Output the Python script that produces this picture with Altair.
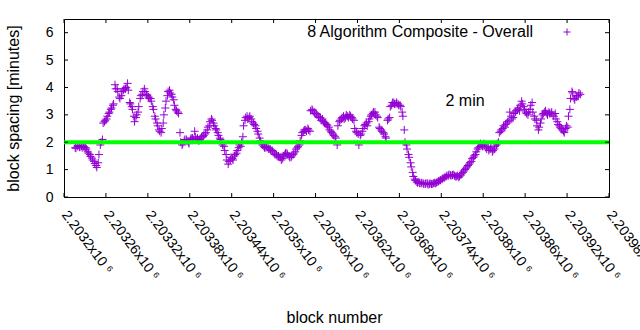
import altair as alt
import pandas as pd

# ---- data ----
# blocks are consecutive; the band is sampled on two interleaved block sets
blocks_a = list(range(2203216, 2203940, 3))
spacing_a = [
    1.80, 1.85, 1.82, 1.86, 1.85, 1.80, 1.65, 1.55, 1.42, 1.30,
    1.15, 1.25, 1.90, 2.10, 2.75, 2.85, 3.05, 3.20, 3.35, 4.10,
    3.95, 3.65, 3.70, 3.90, 3.95, 4.15, 3.45, 3.30, 2.95, 2.90,
    3.10, 3.60, 3.75, 3.95, 3.75, 3.65, 3.60, 3.30, 2.95, 2.70,
    2.45, 2.35, 2.70, 3.25, 3.70, 3.90, 3.75, 3.55, 3.20, 3.10,
    2.35, 1.90, 2.05, 2.10, 2.00, 2.10, 2.15, 2.40, 2.10, 2.05,
    2.15, 2.20, 2.30, 2.45, 2.60, 2.85, 2.70, 2.50, 2.35, 2.15,
    2.00, 1.85, 1.55, 1.20, 1.35, 1.40, 1.50, 1.60, 1.80, 1.85,
    2.20, 2.80, 2.95, 2.90, 2.85, 2.70, 2.60, 2.40, 2.15, 1.95,
    1.85, 1.80, 1.80, 1.75, 1.70, 1.60, 1.55, 1.50, 1.45, 1.40,
    1.55, 1.60, 1.50, 1.45, 1.55, 1.65, 1.80, 1.90, 2.25, 2.40,
    2.45, 2.50, 2.40, 3.20, 3.10, 3.05, 2.95, 2.90, 2.85, 2.70,
    2.65, 2.55, 2.40, 2.30, 2.20, 1.90, 2.75, 2.85, 2.95, 2.90,
    2.95, 3.00, 2.90, 2.80, 2.40, 2.30, 2.25, 2.40, 2.60, 2.70,
    2.75, 2.95, 3.05, 3.10, 2.95, 2.55, 2.45, 2.35, 2.20, 2.80,
    2.90, 3.35, 3.45, 3.40, 3.40, 3.35, 3.10, 2.45, 1.90, 1.55,
    1.25, 0.90, 0.65, 0.55, 0.55, 0.50, 0.50, 0.48, 0.50, 0.47,
    0.47, 0.50, 0.50, 0.55, 0.60, 0.65, 0.70, 0.75, 0.78, 0.80,
    0.80, 0.78, 0.75, 0.72, 0.80, 0.90, 1.00, 1.10, 1.20, 1.30,
    1.45, 1.55, 1.75, 1.85, 1.90, 1.95, 1.80, 1.85, 1.75, 1.65,
    1.75, 1.90, 2.00, 2.40, 2.50, 2.55, 2.70, 2.80, 2.95, 2.90,
    3.10, 3.20, 3.15, 3.50, 3.30, 3.10, 3.00, 3.20, 3.45, 2.95,
    2.80, 2.45, 2.70, 3.00, 3.10, 3.05, 3.10, 3.05, 3.00, 3.05,
    2.75, 2.60, 2.50, 2.40, 2.50, 2.55, 3.20, 3.85, 3.60, 3.65,
    3.70, 3.75,
]
blocks_b = list(range(2203217, 2203940, 3))
spacing_b = [
    1.78, 1.88, 1.84, 1.80, 1.83, 1.75, 1.60, 1.48, 1.35, 1.22,
    1.08, 1.55, 2.00, 2.70, 2.80, 2.95, 3.10, 3.25, 3.40, 3.95,
    3.85, 3.60, 3.85, 3.95, 4.00, 3.90, 3.40, 3.20, 2.75, 3.00,
    3.30, 3.70, 3.85, 3.85, 3.70, 3.60, 3.50, 3.20, 2.85, 2.60,
    2.40, 2.50, 3.00, 3.50, 3.85, 3.80, 3.65, 3.35, 3.15, 3.05,
    2.00, 1.95, 2.10, 2.05, 1.95, 2.15, 2.10, 2.20, 2.15, 2.10,
    2.20, 2.25, 2.35, 2.55, 2.75, 2.80, 2.60, 2.45, 2.25, 2.10,
    1.90, 1.70, 1.35, 1.30, 1.45, 1.35, 1.55, 1.70, 1.90, 2.00,
    2.60, 2.90, 2.85, 2.95, 2.75, 2.65, 2.50, 2.30, 2.05, 1.90,
    1.80, 1.85, 1.75, 1.70, 1.65, 1.55, 1.50, 1.45, 1.35, 1.50,
    1.60, 1.55, 1.45, 1.50, 1.60, 1.75, 1.85, 2.05, 2.35, 2.45,
    2.40, 2.45, 3.15, 3.15, 3.05, 3.00, 2.90, 2.80, 2.75, 2.70,
    2.60, 2.45, 2.35, 2.25, 2.15, 2.60, 2.80, 2.90, 2.85, 3.00,
    2.90, 2.95, 2.85, 2.50, 2.35, 1.90, 2.30, 2.50, 2.65, 2.60,
    2.85, 3.00, 3.10, 3.00, 2.90, 2.50, 2.40, 2.30, 2.15, 2.85,
    3.30, 3.45, 3.40, 3.45, 3.35, 3.30, 2.95, 2.00, 1.75, 1.45,
    1.10, 0.75, 0.60, 0.52, 0.50, 0.52, 0.47, 0.50, 0.45, 0.50,
    0.48, 0.52, 0.53, 0.58, 0.62, 0.68, 0.72, 0.78, 0.82, 0.78,
    0.82, 0.75, 0.78, 0.76, 0.85, 0.95, 1.05, 1.15, 1.25, 1.40,
    1.50, 1.65, 1.80, 1.95, 1.85, 1.90, 1.75, 1.70, 1.80, 1.70,
    1.85, 1.95, 2.35, 2.45, 2.60, 2.65, 2.75, 3.10, 2.85, 3.05,
    3.15, 3.25, 3.35, 3.40, 3.20, 3.05, 3.10, 3.35, 3.10, 2.85,
    2.60, 2.55, 2.85, 3.05, 3.15, 3.00, 3.05, 3.10, 2.95, 2.85,
    2.65, 2.55, 2.45, 2.35, 2.60, 2.95, 3.60, 3.80, 3.55, 3.70,
    3.80,
]
x_ticks = [2203200 + 60 * k for k in range(14)]
y_ticks = [0, 1, 2, 3, 4, 5, 6]
target_minutes = [2]
note_text = ["2 min"]
note_block = [2203774]
note_value = [3.32]
series_name = "8 Algorithm Composite - Overall"

W, H = 545, 178
FONT = "Liberation Sans"
LABEL_FONT = "Liberation Sans, DejaVu Sans, sans-serif"
PURPLE = "#9400d3"
PLUS = "M-1,0L1,0M0,-1L0,1"

df = pd.concat([
    pd.DataFrame({"block": blocks_a, "spacing": spacing_a}),
    pd.DataFrame({"block": blocks_b, "spacing": spacing_b}),
]).sort_values("block")
xt = pd.DataFrame({"t": x_ticks})
yt = pd.DataFrame({"t": y_ticks})

xs = alt.Scale(domain=[2203200, 2203980], nice=False, zero=False)
ys = alt.Scale(domain=[0, 6.5], nice=False, zero=True)

label_expr = "format(datum.value / 1000000, '.5~f') + 'x10 \u2076'"

XAXIS = alt.Axis(
    values=x_ticks, labelExpr=label_expr, labelAngle=53, labelAlign="left",
    labelBaseline="middle", labelPadding=15, labelFont=LABEL_FONT, labelFontSize=14,
    labelColor="#000", labelOverlap=False, labelBound=False, labelFlush=False,
    ticks=False, domain=False, grid=False,
    title="block number", titleFont=FONT, titleFontSize=16, titleFontWeight="normal",
    titleColor="#000", titleX=270, titleY=125, titleAlign="center",
    titleBaseline="alphabetic")
YAXIS = alt.Axis(
    values=y_ticks, labelFont=FONT, labelFontSize=14, labelColor="#000",
    labelPadding=11, labelOverlap=False, labelBound=False, labelFlush=False,
    ticks=False, domain=False, grid=False,
    title="block spacing [minutes]", titleFont=FONT, titleFontSize=16,
    titleFontWeight="normal", titleColor="#000", titleX=-46, titleY=89,
    titleAngle=270, titleAlign="center", titleBaseline="alphabetic")

points = alt.Chart(df).mark_point(
    shape=PLUS, filled=False, size=64, strokeWidth=1, color=PURPLE, opacity=1
).encode(
    x=alt.X("block:Q", scale=xs, axis=XAXIS),
    y=alt.Y("spacing:Q", scale=ys, axis=YAXIS),
)

green = alt.Chart(pd.DataFrame({"m": target_minutes})).mark_rule(
    color="#00ff00", strokeWidth=4
).encode(y=alt.Y("m:Q", scale=ys, axis=YAXIS), x=alt.value(0), x2=alt.value(W))

note = alt.Chart(pd.DataFrame({"b": note_block, "v": note_value, "t": note_text})).mark_text(
    font=FONT, fontSize=16, color="#000", align="center", baseline="alphabetic"
).encode(x=alt.X("b:Q", scale=xs, axis=XAXIS), y=alt.Y("v:Q", scale=ys, axis=YAXIS),
         text="t:N")

leg_text = alt.Chart(pd.DataFrame({"t": [series_name]})).mark_text(
    font=FONT, fontSize=16, color="#000", align="right", baseline="alphabetic"
).encode(x=alt.value(469), y=alt.value(18), text="t:N")

leg_sym = alt.Chart(pd.DataFrame({"t": [series_name]})).mark_point(
    shape=PLUS, filled=False, size=49, strokeWidth=1, color=PURPLE, opacity=1
).encode(x=alt.value(503), y=alt.value(13))

TK = 4
yl = alt.Chart(yt).mark_rule(color="#000", strokeWidth=1).encode(
    y=alt.Y("t:Q", scale=ys, axis=YAXIS), x=alt.value(0), x2=alt.value(TK))
yr = alt.Chart(yt).mark_rule(color="#000", strokeWidth=1).encode(
    y=alt.Y("t:Q", scale=ys, axis=YAXIS), x=alt.value(W - TK), x2=alt.value(W))
xb = alt.Chart(xt).mark_rule(color="#000", strokeWidth=1).encode(
    x=alt.X("t:Q", scale=xs, axis=XAXIS), y=alt.value(H - TK), y2=alt.value(H))
xtp = alt.Chart(xt).mark_rule(color="#000", strokeWidth=1).encode(
    x=alt.X("t:Q", scale=xs, axis=XAXIS), y=alt.value(0), y2=alt.value(TK))

chart = alt.layer(points, green, note, leg_text, leg_sym, yl, yr, xb, xtp).properties(
    width=W, height=H,
    autosize=alt.AutoSizeParams(type="none"),
    padding={"left": 64, "top": 19, "right": 31, "bottom": 133},
    background="#ffffff",
).configure_view(stroke="#000", strokeWidth=1)

chart.save("out.html", embed_options={"renderer": "svg", "actions": False})
